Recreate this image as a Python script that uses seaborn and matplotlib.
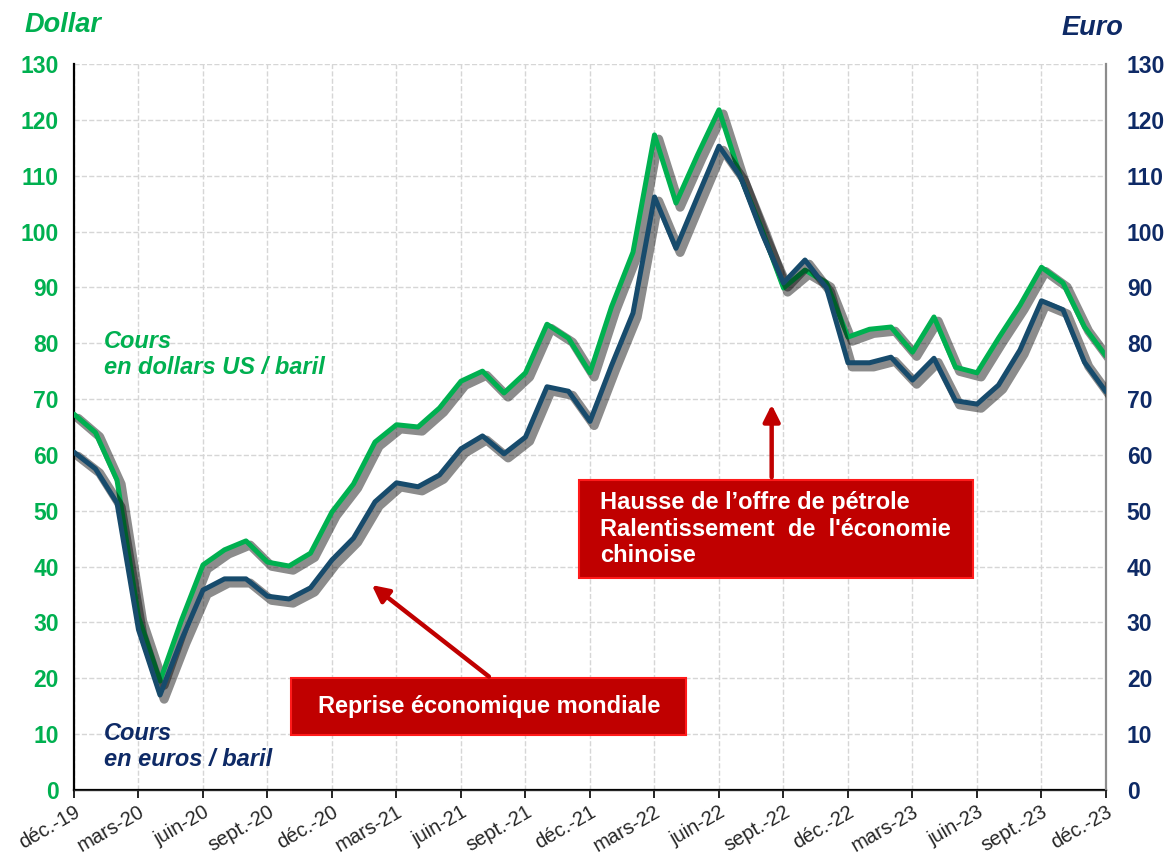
import numpy as np
import pandas as pd
import matplotlib
matplotlib.use('Agg')
import matplotlib.pyplot as plt
import matplotlib.patheffects as pe
from matplotlib.patches import Rectangle
import seaborn as sns

sns.set_style('white')
plt.rcParams['font.family'] = ['Liberation Sans', 'DejaVu Sans']

# Cours du pétrole (Brent), moyenne mensuelle, déc.-19 -> déc.-23
dollar = [67.3, 64.0, 55.5, 31.0, 19.5, 30.4, 40.3, 43.0, 44.6, 40.8, 40.1, 42.4,
          49.8, 54.8, 62.3, 65.4, 65.0, 68.4, 73.2, 75.0, 71.1, 74.7, 83.4, 80.9,
          74.7, 86.5, 96.3, 117.3, 105.1, 113.7, 121.8, 109.8, 100.3, 89.9, 93.1, 90.8,
          81.1, 82.5, 82.9, 78.4, 84.7, 75.7, 74.7, 80.9, 86.8, 93.6, 90.8, 82.9, 77.7]
euro = [60.5, 57.5, 51.4, 28.7, 17.0, 26.9, 35.8, 37.8, 37.8, 34.7, 34.2, 36.2,
        41.2, 45.1, 51.6, 55.0, 54.3, 56.4, 61.1, 63.4, 60.2, 63.2, 72.2, 71.4,
        66.0, 76.0, 85.4, 106.2, 97.0, 106.2, 115.3, 109.8, 99.7, 90.8, 94.9, 89.9,
        76.5, 76.5, 77.5, 73.4, 77.3, 69.7, 69.1, 72.5, 78.8, 87.6, 86.0, 76.6, 71.3]
tick_labels = ['déc.-19', 'mars-20', 'juin-20', 'sept.-20', 'déc.-20', 'mars-21',
               'juin-21', 'sept.-21', 'déc.-21', 'mars-22', 'juin-22', 'sept.-22',
               'déc.-22', 'mars-23', 'juin-23', 'sept.-23', 'déc.-23']
y_ticks = list(range(0, 131, 10))

GREEN = '#00B050'
BLUE = '#174B6C'
NAVY = '#0E2A66'
RED = '#C00000'

df = pd.DataFrame({'mois': np.arange(len(dollar)), 'dollar': dollar, 'euro': euro})

fig = plt.figure(figsize=(11.69, 8.58), dpi=100)
ax = fig.add_axes([0.0633, 0.0793, 0.8828, 0.8461])
ax2 = ax.twinx()

shadow = [pe.SimpleLineShadow(offset=(3, -3), shadow_color='black', alpha=0.45, linewidth=6.5),
          pe.Normal()]

sns.lineplot(data=df, x='mois', y='dollar', ax=ax, color=GREEN, linewidth=3.6,
             path_effects=shadow, zorder=3)
sns.lineplot(data=df, x='mois', y='euro', ax=ax2, color=BLUE, linewidth=3.6,
             path_effects=shadow, zorder=3)

for a in (ax, ax2):
    a.set_xlim(0, len(dollar) - 1)
    a.set_ylim(0, 130)
    a.set_yticks(y_ticks)
    a.set_xlabel('')
    a.set_ylabel('')

ax.set_xticks(np.arange(0, len(dollar), 3))
ax.set_xticklabels(tick_labels, rotation=30, ha='right', va='top',
                   rotation_mode='anchor', fontsize=14.5)
ax.tick_params(axis='x', direction='out', length=6, width=1.2, color='black', pad=3, bottom=True)
ax.tick_params(axis='y', length=0, pad=11, labelsize=16.5, labelcolor=GREEN)
for t in ax.get_yticklabels():
    t.set_fontweight('bold')
ax2.tick_params(axis='y', length=0, pad=15, labelsize=16.5, labelcolor=NAVY)
for t in ax2.get_yticklabels():
    t.set_fontweight('bold')

ax.grid(True, color='#D6D6D6', linestyle='--', linewidth=1)
ax.set_axisbelow(True)
for a in (ax, ax2):
    a.spines['top'].set_visible(False)
    a.spines['left'].set_visible(False)
    a.spines['right'].set_visible(False)
ax.spines['left'].set_visible(True)
ax.spines['left'].set_color('black')
ax.spines['left'].set_linewidth(1.6)
ax.spines['bottom'].set_color('black')
ax.spines['bottom'].set_linewidth(1.6)
ax2.spines['right'].set_visible(True)
ax2.spines['right'].set_color('#8C8C8C')
ax2.spines['right'].set_linewidth(1.6)

# titres d'axes
fig.text(0.021, 0.971, 'Dollar', color=GREEN, fontsize=19.5, fontweight='bold',
         style='italic', ha='left', va='center')
fig.text(0.961, 0.967, 'Euro', color=NAVY, fontsize=19.5, fontweight='bold',
         style='italic', ha='right', va='center')

# étiquettes des séries
ax.text(1.4, 78.0, 'Cours\nen dollars US / baril', color=GREEN, fontsize=17,
        fontweight='bold', style='italic', ha='left', va='center', linespacing=1.2)
ax.text(1.4, 7.8, 'Cours\nen euros / baril', color=NAVY, fontsize=17,
        fontweight='bold', style='italic', ha='left', va='center', linespacing=1.2)

# encadrés
ax.add_patch(Rectangle((23.5, 38.0), 18.3, 17.5, facecolor=RED, edgecolor='#FF1A1A',
                       linewidth=1.5, zorder=5))
ax.text(24.45, 46.7, "Hausse de l\u2019offre de pétrole\nRalentissement  de  l'économie\nchinoise",
        color='white', fontsize=17, fontweight='bold', ha='left', va='center',
        linespacing=1.2, zorder=6)
ax.add_patch(Rectangle((10.1, 9.8), 18.35, 10.2, facecolor=RED, edgecolor='#FF1A1A',
                       linewidth=1.5, zorder=5))
ax.text(19.3, 14.9, 'Reprise économique mondiale', color='white', fontsize=17,
        fontweight='bold', ha='center', va='center', zorder=6)

# flèches
ax.annotate('', xy=(13.75, 37.0), xytext=(19.4, 20.0),
            arrowprops=dict(arrowstyle='-|>,head_length=1.0,head_width=0.5',
                            color=RED, linewidth=3.2), zorder=6)
ax.annotate('', xy=(32.45, 69.5), xytext=(32.45, 55.5),
            arrowprops=dict(arrowstyle='-|>,head_length=1.0,head_width=0.5',
                            color=RED, linewidth=3.2), zorder=6)

plt.savefig('out.png', dpi=100)
plt.close(fig)
